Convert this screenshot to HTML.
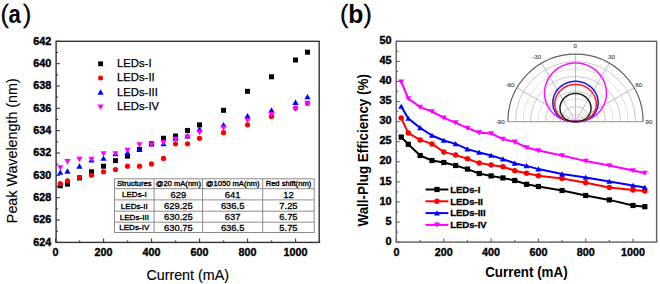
<!DOCTYPE html><html><head><meta charset="utf-8"><style>html,body{margin:0;padding:0;background:#fff;width:660px;height:284px;overflow:hidden}svg{display:block}text{font-family:"Liberation Sans",sans-serif}</style></head><body>
<svg width="660" height="284" viewBox="0 0 660 284">
<rect width="660" height="284" fill="#fff"/>
<text x="0.4" y="23.1" font-size="25" stroke="#000" stroke-width="0.3">(</text>
<text transform="translate(8.6,22.9) scale(0.84,1)" font-size="26.3" font-weight="bold">a</text>
<text x="23.1" y="23.1" font-size="25" stroke="#000" stroke-width="0.3">)</text>
<text x="339.9" y="23.1" font-size="25" stroke="#000" stroke-width="0.3">(</text>
<text transform="translate(348.3,22.9) scale(0.97,1)" font-size="25.5" font-weight="bold">b</text>
<text x="363.4" y="23.1" font-size="25" stroke="#000" stroke-width="0.3">)</text>
<line x1="56.1" y1="242.4" x2="59.9" y2="242.4" stroke="#333" stroke-width="1.1"/>
<line x1="56.1" y1="231.23" x2="58.1" y2="231.23" stroke="#333" stroke-width="1.1"/>
<line x1="56.1" y1="220.06" x2="59.9" y2="220.06" stroke="#333" stroke-width="1.1"/>
<line x1="56.1" y1="208.88" x2="58.1" y2="208.88" stroke="#333" stroke-width="1.1"/>
<line x1="56.1" y1="197.71" x2="59.9" y2="197.71" stroke="#333" stroke-width="1.1"/>
<line x1="56.1" y1="186.54" x2="58.1" y2="186.54" stroke="#333" stroke-width="1.1"/>
<line x1="56.1" y1="175.37" x2="59.9" y2="175.37" stroke="#333" stroke-width="1.1"/>
<line x1="56.1" y1="164.19" x2="58.1" y2="164.19" stroke="#333" stroke-width="1.1"/>
<line x1="56.1" y1="153.02" x2="59.9" y2="153.02" stroke="#333" stroke-width="1.1"/>
<line x1="56.1" y1="141.85" x2="58.1" y2="141.85" stroke="#333" stroke-width="1.1"/>
<line x1="56.1" y1="130.68" x2="59.9" y2="130.68" stroke="#333" stroke-width="1.1"/>
<line x1="56.1" y1="119.51" x2="58.1" y2="119.51" stroke="#333" stroke-width="1.1"/>
<line x1="56.1" y1="108.33" x2="59.9" y2="108.33" stroke="#333" stroke-width="1.1"/>
<line x1="56.1" y1="97.16" x2="58.1" y2="97.16" stroke="#333" stroke-width="1.1"/>
<line x1="56.1" y1="85.99" x2="59.9" y2="85.99" stroke="#333" stroke-width="1.1"/>
<line x1="56.1" y1="74.82" x2="58.1" y2="74.82" stroke="#333" stroke-width="1.1"/>
<line x1="56.1" y1="63.64" x2="59.9" y2="63.64" stroke="#333" stroke-width="1.1"/>
<line x1="56.1" y1="52.47" x2="58.1" y2="52.47" stroke="#333" stroke-width="1.1"/>
<line x1="56.1" y1="41.3" x2="59.9" y2="41.3" stroke="#333" stroke-width="1.1"/>
<line x1="55.6" y1="242.4" x2="55.6" y2="238.6" stroke="#333" stroke-width="1.1"/>
<line x1="79.6" y1="242.4" x2="79.6" y2="240.4" stroke="#333" stroke-width="1.1"/>
<line x1="103.6" y1="242.4" x2="103.6" y2="238.6" stroke="#333" stroke-width="1.1"/>
<line x1="127.6" y1="242.4" x2="127.6" y2="240.4" stroke="#333" stroke-width="1.1"/>
<line x1="151.6" y1="242.4" x2="151.6" y2="238.6" stroke="#333" stroke-width="1.1"/>
<line x1="175.6" y1="242.4" x2="175.6" y2="240.4" stroke="#333" stroke-width="1.1"/>
<line x1="199.6" y1="242.4" x2="199.6" y2="238.6" stroke="#333" stroke-width="1.1"/>
<line x1="223.6" y1="242.4" x2="223.6" y2="240.4" stroke="#333" stroke-width="1.1"/>
<line x1="247.6" y1="242.4" x2="247.6" y2="238.6" stroke="#333" stroke-width="1.1"/>
<line x1="271.6" y1="242.4" x2="271.6" y2="240.4" stroke="#333" stroke-width="1.1"/>
<line x1="295.6" y1="242.4" x2="295.6" y2="238.6" stroke="#333" stroke-width="1.1"/>
<line x1="319.6" y1="242.4" x2="319.6" y2="240.4" stroke="#333" stroke-width="1.1"/>
<rect x="56.1" y="41.3" width="263.1" height="201.1" fill="none" stroke="#333" stroke-width="1.4"/>
<text x="51.2" y="245.8" font-size="10.8" font-weight="bold" stroke="#000" stroke-width="0.4" text-anchor="end">624</text>
<text x="51.2" y="223.46" font-size="10.8" font-weight="bold" stroke="#000" stroke-width="0.4" text-anchor="end">626</text>
<text x="51.2" y="201.11" font-size="10.8" font-weight="bold" stroke="#000" stroke-width="0.4" text-anchor="end">628</text>
<text x="51.2" y="178.77" font-size="10.8" font-weight="bold" stroke="#000" stroke-width="0.4" text-anchor="end">630</text>
<text x="51.2" y="156.42" font-size="10.8" font-weight="bold" stroke="#000" stroke-width="0.4" text-anchor="end">632</text>
<text x="51.2" y="134.08" font-size="10.8" font-weight="bold" stroke="#000" stroke-width="0.4" text-anchor="end">634</text>
<text x="51.2" y="111.73" font-size="10.8" font-weight="bold" stroke="#000" stroke-width="0.4" text-anchor="end">636</text>
<text x="51.2" y="89.39" font-size="10.8" font-weight="bold" stroke="#000" stroke-width="0.4" text-anchor="end">638</text>
<text x="51.2" y="67.04" font-size="10.8" font-weight="bold" stroke="#000" stroke-width="0.4" text-anchor="end">640</text>
<text x="51.2" y="44.7" font-size="10.8" font-weight="bold" stroke="#000" stroke-width="0.4" text-anchor="end">642</text>
<text x="55.6" y="255.5" font-size="10.8" font-weight="bold" stroke="#000" stroke-width="0.35" text-anchor="middle">0</text>
<text x="103.6" y="255.5" font-size="10.8" font-weight="bold" stroke="#000" stroke-width="0.35" text-anchor="middle">200</text>
<text x="151.6" y="255.5" font-size="10.8" font-weight="bold" stroke="#000" stroke-width="0.35" text-anchor="middle">400</text>
<text x="199.6" y="255.5" font-size="10.8" font-weight="bold" stroke="#000" stroke-width="0.35" text-anchor="middle">600</text>
<text x="247.6" y="255.5" font-size="10.8" font-weight="bold" stroke="#000" stroke-width="0.35" text-anchor="middle">800</text>
<text x="295.6" y="255.5" font-size="10.8" font-weight="bold" stroke="#000" stroke-width="0.35" text-anchor="middle">1000</text>
<text x="187.7" y="279.7" font-size="14.3" stroke="#000" stroke-width="0.15" text-anchor="middle">Current (mA)</text>
<text transform="translate(17,150.7) rotate(-90)" font-size="14.3" stroke="#000" stroke-width="0.15" text-anchor="middle">Peak Wavelength (nm)</text>
<rect x="57.8" y="183.28" width="5" height="5" fill="#000000"/>
<rect x="65" y="181.6" width="5" height="5" fill="#000000"/>
<rect x="77" y="175.45" width="5" height="5" fill="#000000"/>
<rect x="89" y="169.31" width="5" height="5" fill="#000000"/>
<rect x="101" y="163.72" width="5" height="5" fill="#000000"/>
<rect x="113" y="158.13" width="5" height="5" fill="#000000"/>
<rect x="125" y="153.65" width="5" height="5" fill="#000000"/>
<rect x="137" y="146.95" width="5" height="5" fill="#000000"/>
<rect x="149" y="141.36" width="5" height="5" fill="#000000"/>
<rect x="161" y="135.77" width="5" height="5" fill="#000000"/>
<rect x="173" y="133.53" width="5" height="5" fill="#000000"/>
<rect x="185" y="127.94" width="5" height="5" fill="#000000"/>
<rect x="197" y="122.35" width="5" height="5" fill="#000000"/>
<rect x="221" y="107.82" width="5" height="5" fill="#000000"/>
<rect x="245" y="88.81" width="5" height="5" fill="#000000"/>
<rect x="269" y="74.28" width="5" height="5" fill="#000000"/>
<rect x="293" y="57.51" width="5" height="5" fill="#000000"/>
<rect x="305" y="49.68" width="5" height="5" fill="#000000"/>
<circle cx="60.3" cy="183.54" r="2.62" fill="#ff0000"/>
<circle cx="67.5" cy="180.75" r="2.62" fill="#ff0000"/>
<circle cx="79.5" cy="177.4" r="2.62" fill="#ff0000"/>
<circle cx="91.5" cy="175.16" r="2.62" fill="#ff0000"/>
<circle cx="103.5" cy="171.81" r="2.62" fill="#ff0000"/>
<circle cx="115.5" cy="169.57" r="2.62" fill="#ff0000"/>
<circle cx="127.5" cy="166.22" r="2.62" fill="#ff0000"/>
<circle cx="139.5" cy="166.22" r="2.62" fill="#ff0000"/>
<circle cx="151.5" cy="163.98" r="2.62" fill="#ff0000"/>
<circle cx="163.5" cy="158.39" r="2.62" fill="#ff0000"/>
<circle cx="175.5" cy="143.86" r="2.62" fill="#ff0000"/>
<circle cx="187.5" cy="143.86" r="2.62" fill="#ff0000"/>
<circle cx="199.5" cy="138.27" r="2.62" fill="#ff0000"/>
<circle cx="223.5" cy="132.68" r="2.62" fill="#ff0000"/>
<circle cx="247.5" cy="124.85" r="2.62" fill="#ff0000"/>
<circle cx="271.5" cy="116.47" r="2.62" fill="#ff0000"/>
<circle cx="295.5" cy="108.08" r="2.62" fill="#ff00ff"/>
<circle cx="307.5" cy="103.61" r="2.62" fill="#ff00ff"/>
<polygon points="57.2,174.8 63.4,174.8 60.3,169.4" fill="#0000ff"/>
<polygon points="64.39,173.68 70.61,173.68 67.5,168.28" fill="#0000ff"/>
<polygon points="76.39,168.65 82.61,168.65 79.5,163.25" fill="#0000ff"/>
<polygon points="88.39,162.5 94.61,162.5 91.5,157.1" fill="#0000ff"/>
<polygon points="100.39,160.82 106.61,160.82 103.5,155.42" fill="#0000ff"/>
<polygon points="112.39,156.35 118.61,156.35 115.5,150.95" fill="#0000ff"/>
<polygon points="124.39,155.23 130.6,155.23 127.5,149.83" fill="#0000ff"/>
<polygon points="136.4,151.88 142.6,151.88 139.5,146.48" fill="#0000ff"/>
<polygon points="148.4,146.29 154.6,146.29 151.5,140.89" fill="#0000ff"/>
<polygon points="160.4,146.29 166.6,146.29 163.5,140.89" fill="#0000ff"/>
<polygon points="172.4,140.7 178.6,140.7 175.5,135.3" fill="#0000ff"/>
<polygon points="184.4,138.46 190.6,138.46 187.5,133.06" fill="#0000ff"/>
<polygon points="196.4,131.75 202.6,131.75 199.5,126.35" fill="#0000ff"/>
<polygon points="220.4,127.28 226.6,127.28 223.5,121.88" fill="#0000ff"/>
<polygon points="244.4,118.34 250.6,118.34 247.5,112.94" fill="#0000ff"/>
<polygon points="268.39,112.75 274.61,112.75 271.5,107.35" fill="#0000ff"/>
<polygon points="292.39,104.92 298.61,104.92 295.5,99.52" fill="#0000ff"/>
<polygon points="304.39,99.33 310.61,99.33 307.5,93.93" fill="#0000ff"/>
<polygon points="57.2,165.14 63.4,165.14 60.3,170.54" fill="#ff00ff"/>
<polygon points="64.39,159 70.61,159 67.5,164.4" fill="#ff00ff"/>
<polygon points="76.39,156.76 82.61,156.76 79.5,162.16" fill="#ff00ff"/>
<polygon points="88.39,156.76 94.61,156.76 91.5,162.16" fill="#ff00ff"/>
<polygon points="100.39,151.17 106.61,151.17 103.5,156.57" fill="#ff00ff"/>
<polygon points="112.39,151.17 118.61,151.17 115.5,156.57" fill="#ff00ff"/>
<polygon points="124.39,147.82 130.6,147.82 127.5,153.22" fill="#ff00ff"/>
<polygon points="136.4,142.23 142.6,142.23 139.5,147.63" fill="#ff00ff"/>
<polygon points="148.4,142.23 154.6,142.23 151.5,147.63" fill="#ff00ff"/>
<polygon points="160.4,139.99 166.6,139.99 163.5,145.39" fill="#ff00ff"/>
<polygon points="172.4,136.64 178.6,136.64 175.5,142.04" fill="#ff00ff"/>
<polygon points="184.4,134.4 190.6,134.4 187.5,139.8" fill="#ff00ff"/>
<polygon points="196.4,129.93 202.6,129.93 199.5,135.33" fill="#ff00ff"/>
<polygon points="220.4,125.46 226.6,125.46 223.5,130.86" fill="#ff00ff"/>
<polygon points="244.4,117.63 250.6,117.63 247.5,123.03" fill="#ff00ff"/>
<polygon points="268.39,112.04 274.61,112.04 271.5,117.44" fill="#ff00ff"/>
<polygon points="292.39,106.45 298.61,106.45 295.5,111.85" fill="#ff00ff"/>
<polygon points="304.39,100.86 310.61,100.86 307.5,106.26" fill="#ff00ff"/>
<rect x="98.2" y="61.4" width="4.8" height="4.8" fill="#000000"/>
<text x="117" y="67.2" font-size="11.3" stroke="#000" stroke-width="0.25">LEDs-I</text>
<circle cx="100.6" cy="78" r="2.52" fill="#ff0000"/>
<text x="117" y="81.4" font-size="11.3" stroke="#000" stroke-width="0.25">LEDs-II</text>
<polygon points="97.49,94.63 103.7,94.63 100.6,89.23" fill="#0000ff"/>
<text x="117" y="95.6" font-size="11.3" stroke="#000" stroke-width="0.25">LEDs-III</text>
<polygon points="97.49,104.57 103.7,104.57 100.6,109.97" fill="#ff00ff"/>
<text x="117" y="109.8" font-size="11.3" stroke="#000" stroke-width="0.25">LEDs-IV</text>
<rect x="114.5" y="178.8" width="199.7" height="53.7" fill="#fff" stroke="#8c8c8c" stroke-width="1"/>
<line x1="154.1" y1="178.8" x2="154.1" y2="232.5" stroke="#8c8c8c" stroke-width="1"/>
<line x1="202.6" y1="178.8" x2="202.6" y2="232.5" stroke="#8c8c8c" stroke-width="1"/>
<line x1="262.7" y1="178.8" x2="262.7" y2="232.5" stroke="#8c8c8c" stroke-width="1"/>
<line x1="114.5" y1="188.7" x2="314.2" y2="188.7" stroke="#8c8c8c" stroke-width="1"/>
<line x1="114.5" y1="199.9" x2="314.2" y2="199.9" stroke="#8c8c8c" stroke-width="1"/>
<line x1="114.5" y1="211.2" x2="314.2" y2="211.2" stroke="#8c8c8c" stroke-width="1"/>
<line x1="114.5" y1="222.2" x2="314.2" y2="222.2" stroke="#8c8c8c" stroke-width="1"/>
<text x="134.3" y="186.35" font-size="7.6" stroke="#000" stroke-width="0.35" text-anchor="middle">Structures</text>
<text x="178.35" y="186.35" font-size="7.6" stroke="#000" stroke-width="0.35" text-anchor="middle">@20 mA(nm)</text>
<text x="232.65" y="186.35" font-size="7.6" stroke="#000" stroke-width="0.35" text-anchor="middle">@1050 mA(nm)</text>
<text x="288.45" y="186.35" font-size="7.6" stroke="#000" stroke-width="0.35" text-anchor="middle">Red shift(nm)</text>
<text x="134.3" y="197.3" font-size="8.1" stroke="#000" stroke-width="0.35" text-anchor="middle">LEDs-I</text>
<text x="178.35" y="197.7" font-size="9.4" stroke="#000" stroke-width="0.3" text-anchor="middle">629</text>
<text x="232.65" y="197.7" font-size="9.4" stroke="#000" stroke-width="0.3" text-anchor="middle">641</text>
<text x="288.45" y="197.7" font-size="9.4" stroke="#000" stroke-width="0.3" text-anchor="middle">12</text>
<text x="134.3" y="208.55" font-size="8.1" stroke="#000" stroke-width="0.35" text-anchor="middle">LEDs-II</text>
<text x="178.35" y="208.95" font-size="9.4" stroke="#000" stroke-width="0.3" text-anchor="middle">629.25</text>
<text x="232.65" y="208.95" font-size="9.4" stroke="#000" stroke-width="0.3" text-anchor="middle">636.5</text>
<text x="288.45" y="208.95" font-size="9.4" stroke="#000" stroke-width="0.3" text-anchor="middle">7.25</text>
<text x="134.3" y="219.7" font-size="8.1" stroke="#000" stroke-width="0.35" text-anchor="middle">LEDs-III</text>
<text x="178.35" y="220.1" font-size="9.4" stroke="#000" stroke-width="0.3" text-anchor="middle">630.25</text>
<text x="232.65" y="220.1" font-size="9.4" stroke="#000" stroke-width="0.3" text-anchor="middle">637</text>
<text x="288.45" y="220.1" font-size="9.4" stroke="#000" stroke-width="0.3" text-anchor="middle">6.75</text>
<text x="134.3" y="230.35" font-size="8.1" stroke="#000" stroke-width="0.35" text-anchor="middle">LEDs-IV</text>
<text x="178.35" y="230.75" font-size="9.4" stroke="#000" stroke-width="0.3" text-anchor="middle">630.75</text>
<text x="232.65" y="230.75" font-size="9.4" stroke="#000" stroke-width="0.3" text-anchor="middle">636.5</text>
<text x="288.45" y="230.75" font-size="9.4" stroke="#000" stroke-width="0.3" text-anchor="middle">5.75</text>
<line x1="396.2" y1="242.1" x2="399.7" y2="242.1" stroke="#606060" stroke-width="1.1"/>
<line x1="396.2" y1="232.06" x2="398.2" y2="232.06" stroke="#606060" stroke-width="1.1"/>
<line x1="396.2" y1="222.02" x2="399.7" y2="222.02" stroke="#606060" stroke-width="1.1"/>
<line x1="396.2" y1="211.98" x2="398.2" y2="211.98" stroke="#606060" stroke-width="1.1"/>
<line x1="396.2" y1="201.94" x2="399.7" y2="201.94" stroke="#606060" stroke-width="1.1"/>
<line x1="396.2" y1="191.9" x2="398.2" y2="191.9" stroke="#606060" stroke-width="1.1"/>
<line x1="396.2" y1="181.86" x2="399.7" y2="181.86" stroke="#606060" stroke-width="1.1"/>
<line x1="396.2" y1="171.82" x2="398.2" y2="171.82" stroke="#606060" stroke-width="1.1"/>
<line x1="396.2" y1="161.78" x2="399.7" y2="161.78" stroke="#606060" stroke-width="1.1"/>
<line x1="396.2" y1="151.74" x2="398.2" y2="151.74" stroke="#606060" stroke-width="1.1"/>
<line x1="396.2" y1="141.7" x2="399.7" y2="141.7" stroke="#606060" stroke-width="1.1"/>
<line x1="396.2" y1="131.66" x2="398.2" y2="131.66" stroke="#606060" stroke-width="1.1"/>
<line x1="396.2" y1="121.62" x2="399.7" y2="121.62" stroke="#606060" stroke-width="1.1"/>
<line x1="396.2" y1="111.58" x2="398.2" y2="111.58" stroke="#606060" stroke-width="1.1"/>
<line x1="396.2" y1="101.54" x2="399.7" y2="101.54" stroke="#606060" stroke-width="1.1"/>
<line x1="396.2" y1="91.5" x2="398.2" y2="91.5" stroke="#606060" stroke-width="1.1"/>
<line x1="396.2" y1="81.46" x2="399.7" y2="81.46" stroke="#606060" stroke-width="1.1"/>
<line x1="396.2" y1="71.42" x2="398.2" y2="71.42" stroke="#606060" stroke-width="1.1"/>
<line x1="396.2" y1="61.38" x2="399.7" y2="61.38" stroke="#606060" stroke-width="1.1"/>
<line x1="396.2" y1="51.34" x2="398.2" y2="51.34" stroke="#606060" stroke-width="1.1"/>
<line x1="396.2" y1="41.3" x2="399.7" y2="41.3" stroke="#606060" stroke-width="1.1"/>
<line x1="396.5" y1="242.1" x2="396.5" y2="238.6" stroke="#606060" stroke-width="1.1"/>
<line x1="420.15" y1="242.1" x2="420.15" y2="240.1" stroke="#606060" stroke-width="1.1"/>
<line x1="443.8" y1="242.1" x2="443.8" y2="238.6" stroke="#606060" stroke-width="1.1"/>
<line x1="467.45" y1="242.1" x2="467.45" y2="240.1" stroke="#606060" stroke-width="1.1"/>
<line x1="491.1" y1="242.1" x2="491.1" y2="238.6" stroke="#606060" stroke-width="1.1"/>
<line x1="514.75" y1="242.1" x2="514.75" y2="240.1" stroke="#606060" stroke-width="1.1"/>
<line x1="538.4" y1="242.1" x2="538.4" y2="238.6" stroke="#606060" stroke-width="1.1"/>
<line x1="562.05" y1="242.1" x2="562.05" y2="240.1" stroke="#606060" stroke-width="1.1"/>
<line x1="585.7" y1="242.1" x2="585.7" y2="238.6" stroke="#606060" stroke-width="1.1"/>
<line x1="609.35" y1="242.1" x2="609.35" y2="240.1" stroke="#606060" stroke-width="1.1"/>
<line x1="633" y1="242.1" x2="633" y2="238.6" stroke="#606060" stroke-width="1.1"/>
<line x1="656.65" y1="242.1" x2="656.65" y2="240.1" stroke="#606060" stroke-width="1.1"/>
<rect x="396.2" y="41.3" width="260.4" height="200.8" fill="none" stroke="#606060" stroke-width="1.4"/>
<text x="391.6" y="244.8" font-size="10.9" font-weight="bold" stroke="#000" stroke-width="0.4" text-anchor="end">0</text>
<text x="391.6" y="224.72" font-size="10.9" font-weight="bold" stroke="#000" stroke-width="0.4" text-anchor="end">5</text>
<text x="391.6" y="204.64" font-size="10.9" font-weight="bold" stroke="#000" stroke-width="0.4" text-anchor="end">10</text>
<text x="391.6" y="184.56" font-size="10.9" font-weight="bold" stroke="#000" stroke-width="0.4" text-anchor="end">15</text>
<text x="391.6" y="164.48" font-size="10.9" font-weight="bold" stroke="#000" stroke-width="0.4" text-anchor="end">20</text>
<text x="391.6" y="144.4" font-size="10.9" font-weight="bold" stroke="#000" stroke-width="0.4" text-anchor="end">25</text>
<text x="391.6" y="124.32" font-size="10.9" font-weight="bold" stroke="#000" stroke-width="0.4" text-anchor="end">30</text>
<text x="391.6" y="104.24" font-size="10.9" font-weight="bold" stroke="#000" stroke-width="0.4" text-anchor="end">35</text>
<text x="391.6" y="84.16" font-size="10.9" font-weight="bold" stroke="#000" stroke-width="0.4" text-anchor="end">40</text>
<text x="391.6" y="64.08" font-size="10.9" font-weight="bold" stroke="#000" stroke-width="0.4" text-anchor="end">45</text>
<text x="391.6" y="44" font-size="10.9" font-weight="bold" stroke="#000" stroke-width="0.4" text-anchor="end">50</text>
<text x="396.5" y="255.5" font-size="10.8" font-weight="bold" stroke="#000" stroke-width="0.35" text-anchor="middle">0</text>
<text x="443.8" y="255.5" font-size="10.8" font-weight="bold" stroke="#000" stroke-width="0.35" text-anchor="middle">200</text>
<text x="491.1" y="255.5" font-size="10.8" font-weight="bold" stroke="#000" stroke-width="0.35" text-anchor="middle">400</text>
<text x="538.4" y="255.5" font-size="10.8" font-weight="bold" stroke="#000" stroke-width="0.35" text-anchor="middle">600</text>
<text x="585.7" y="255.5" font-size="10.8" font-weight="bold" stroke="#000" stroke-width="0.35" text-anchor="middle">800</text>
<text x="633" y="255.5" font-size="10.8" font-weight="bold" stroke="#000" stroke-width="0.35" text-anchor="middle">1000</text>
<text x="526.4" y="276.9" font-size="14.2" font-weight="bold" text-anchor="middle" textLength="82.5" lengthAdjust="spacingAndGlyphs">Current (mA)</text>
<text transform="translate(367.5,150.3) rotate(-90)" font-size="14.5" font-weight="bold" text-anchor="middle" textLength="152.5" lengthAdjust="spacingAndGlyphs">Wall-Plug Efficiency (%)</text>
<path d="M567.99,121.6 A7.51,7.51 0 0 1 583.01,121.6" fill="none" stroke="#dcdcdc" stroke-width="0.9"/>
<path d="M560.48,121.6 A15.02,15.02 0 0 1 590.52,121.6" fill="none" stroke="#c4c4c4" stroke-width="0.9"/>
<path d="M552.97,121.6 A22.53,22.53 0 0 1 598.03,121.6" fill="none" stroke="#dcdcdc" stroke-width="0.9"/>
<path d="M545.46,121.6 A30.04,30.04 0 0 1 605.54,121.6" fill="none" stroke="#c4c4c4" stroke-width="0.9"/>
<path d="M537.94,121.6 A37.56,37.56 0 0 1 613.06,121.6" fill="none" stroke="#dcdcdc" stroke-width="0.9"/>
<path d="M530.43,121.6 A45.07,45.07 0 0 1 620.57,121.6" fill="none" stroke="#c4c4c4" stroke-width="0.9"/>
<path d="M522.92,121.6 A52.58,52.58 0 0 1 628.08,121.6" fill="none" stroke="#dcdcdc" stroke-width="0.9"/>
<path d="M515.41,121.6 A60.09,60.09 0 0 1 635.59,121.6" fill="none" stroke="#c4c4c4" stroke-width="0.9"/>
<line x1="575.5" y1="121.6" x2="516.96" y2="87.8" stroke="#b4b4b4" stroke-width="0.9"/>
<line x1="575.5" y1="121.6" x2="541.7" y2="63.06" stroke="#b4b4b4" stroke-width="0.9"/>
<line x1="575.5" y1="121.6" x2="575.5" y2="54" stroke="#b4b4b4" stroke-width="0.9"/>
<line x1="575.5" y1="121.6" x2="609.3" y2="63.06" stroke="#b4b4b4" stroke-width="0.9"/>
<line x1="575.5" y1="121.6" x2="634.04" y2="87.8" stroke="#b4b4b4" stroke-width="0.9"/>
<line x1="507.9" y1="121.6" x2="643.1" y2="121.6" stroke="#a8a8a8" stroke-width="1.1"/>
<path d="M507.9,121.6 A67.6,67.6 0 0 1 643.1,121.6" fill="none" stroke="#606060" stroke-width="1.2"/>
<text x="500.3" y="123.9" font-size="6.2" fill="#4a4a4a" stroke="#4a4a4a" stroke-width="0.15" text-anchor="middle">-90</text>
<text x="510" y="86.8" font-size="6.2" fill="#4a4a4a" stroke="#4a4a4a" stroke-width="0.15" text-anchor="middle">-60</text>
<text x="536.8" y="58.9" font-size="6.2" fill="#4a4a4a" stroke="#4a4a4a" stroke-width="0.15" text-anchor="middle">-30</text>
<text x="575.3" y="48.4" font-size="6.2" fill="#4a4a4a" stroke="#4a4a4a" stroke-width="0.15" text-anchor="middle">0</text>
<text x="611.4" y="59.2" font-size="6.2" fill="#4a4a4a" stroke="#4a4a4a" stroke-width="0.15" text-anchor="middle">30</text>
<text x="638.7" y="86.8" font-size="6.2" fill="#4a4a4a" stroke="#4a4a4a" stroke-width="0.15" text-anchor="middle">60</text>
<text x="649" y="124.4" font-size="6.2" fill="#4a4a4a" stroke="#4a4a4a" stroke-width="0.15" text-anchor="middle">90</text>
<path d="M575.5,121.6 L572.12,121.48 L569.42,121.17 L566.95,120.7 L564.64,120.07 L562.47,119.3 L560.42,118.39 L558.48,117.36 L556.66,116.2 L554.96,114.93 L553.38,113.55 L551.92,112.07 L550.58,110.51 L549.37,108.86 L548.29,107.13 L547.35,105.34 L546.53,103.5 L545.86,101.61 L545.32,99.67 L544.92,97.71 L544.67,95.73 L544.55,93.73 L544.57,91.73 L544.73,89.74 L545.03,87.76 L545.47,85.81 L546.04,83.89 L546.73,82.01 L547.56,80.18 L548.51,78.4 L549.57,76.69 L550.75,75.05 L552.04,73.5 L553.43,72.03 L554.91,70.65 L556.49,69.37 L558.15,68.2 L559.88,67.13 L561.68,66.18 L563.54,65.35 L565.46,64.64 L567.41,64.05 L569.4,63.59 L571.42,63.26 L573.46,63.07 L575.5,63 L577.54,63.07 L579.58,63.26 L581.6,63.59 L583.59,64.05 L585.54,64.64 L587.46,65.35 L589.32,66.18 L591.12,67.13 L592.85,68.2 L594.51,69.37 L596.09,70.65 L597.57,72.03 L598.96,73.5 L600.25,75.05 L601.43,76.69 L602.49,78.4 L603.44,80.18 L604.27,82.01 L604.96,83.89 L605.53,85.81 L605.97,87.76 L606.27,89.74 L606.43,91.73 L606.45,93.73 L606.33,95.73 L606.08,97.71 L605.68,99.67 L605.14,101.61 L604.47,103.5 L603.65,105.34 L602.71,107.13 L601.63,108.86 L600.42,110.51 L599.08,112.07 L597.62,113.55 L596.04,114.93 L594.34,116.2 L592.52,117.36 L590.58,118.39 L588.53,119.3 L586.36,120.07 L584.05,120.7 L581.58,121.17 L578.88,121.48 L575.5,121.6Z" fill="none" stroke="#ff10ff" stroke-width="1.5" stroke-linejoin="round"/>
<path d="M575.5,121.6 L571.65,121.47 L569.27,121.16 L567.25,120.73 L565.46,120.19 L563.85,119.55 L562.37,118.81 L561.02,117.99 L559.78,117.09 L558.65,116.13 L557.63,115.1 L556.71,114.01 L555.89,112.87 L555.16,111.68 L554.54,110.46 L554.02,109.2 L553.59,107.91 L553.26,106.6 L553.02,105.27 L552.89,103.93 L552.84,102.59 L552.89,101.24 L553.04,99.91 L553.27,98.58 L553.59,97.27 L554,95.98 L554.5,94.72 L555.08,93.49 L555.74,92.3 L556.47,91.15 L557.28,90.04 L558.16,88.99 L559.11,87.99 L560.11,87.04 L561.18,86.16 L562.3,85.34 L563.48,84.6 L564.69,83.92 L565.95,83.31 L567.25,82.79 L568.58,82.34 L569.93,81.96 L571.3,81.67 L572.69,81.47 L574.09,81.34 L575.5,81.3 L576.91,81.34 L578.31,81.47 L579.7,81.67 L581.07,81.96 L582.42,82.34 L583.75,82.79 L585.05,83.31 L586.31,83.92 L587.52,84.6 L588.7,85.34 L589.82,86.16 L590.89,87.04 L591.89,87.99 L592.84,88.99 L593.72,90.04 L594.53,91.15 L595.26,92.3 L595.92,93.49 L596.5,94.72 L597,95.98 L597.41,97.27 L597.73,98.58 L597.96,99.91 L598.11,101.24 L598.16,102.59 L598.11,103.93 L597.98,105.27 L597.74,106.6 L597.41,107.91 L596.98,109.2 L596.46,110.46 L595.84,111.68 L595.11,112.87 L594.29,114.01 L593.37,115.1 L592.35,116.13 L591.22,117.09 L589.98,117.99 L588.63,118.81 L587.15,119.55 L585.54,120.19 L583.75,120.73 L581.73,121.16 L579.35,121.47 L575.5,121.6Z" fill="none" stroke="#1515ff" stroke-width="1.5" stroke-linejoin="round"/>
<path d="M575.5,121.6 L572.18,121.48 L570.04,121.22 L568.22,120.84 L566.59,120.35 L565.11,119.77 L563.76,119.1 L562.51,118.36 L561.36,117.55 L560.31,116.66 L559.35,115.72 L558.49,114.73 L557.72,113.68 L557.04,112.59 L556.44,111.47 L555.94,110.31 L555.53,109.12 L555.21,107.91 L554.97,106.69 L554.83,105.45 L554.77,104.21 L554.8,102.96 L554.91,101.72 L555.12,100.49 L555.4,99.28 L555.76,98.08 L556.21,96.91 L556.73,95.76 L557.32,94.65 L557.99,93.58 L558.73,92.55 L559.53,91.57 L560.4,90.64 L561.32,89.76 L562.3,88.94 L563.33,88.17 L564.41,87.48 L565.53,86.84 L566.69,86.28 L567.89,85.79 L569.11,85.37 L570.36,85.02 L571.63,84.75 L572.91,84.56 L574.2,84.44 L575.5,84.4 L576.8,84.44 L578.09,84.56 L579.37,84.75 L580.64,85.02 L581.89,85.37 L583.11,85.79 L584.31,86.28 L585.47,86.84 L586.59,87.48 L587.67,88.17 L588.7,88.94 L589.68,89.76 L590.6,90.64 L591.47,91.57 L592.27,92.55 L593.01,93.58 L593.68,94.65 L594.27,95.76 L594.79,96.91 L595.24,98.08 L595.6,99.28 L595.88,100.49 L596.09,101.72 L596.2,102.96 L596.23,104.21 L596.17,105.45 L596.03,106.69 L595.79,107.91 L595.47,109.12 L595.06,110.31 L594.56,111.47 L593.96,112.59 L593.28,113.68 L592.51,114.73 L591.65,115.72 L590.69,116.66 L589.64,117.55 L588.49,118.36 L587.24,119.1 L585.89,119.77 L584.41,120.35 L582.78,120.84 L580.96,121.22 L578.82,121.48 L575.5,121.6Z" fill="none" stroke="#ff2020" stroke-width="1.5" stroke-linejoin="round"/>
<path d="M575.5,121.6 L573.22,121.52 L571.68,121.33 L570.34,121.06 L569.14,120.71 L568.03,120.28 L567.01,119.79 L566.06,119.25 L565.19,118.64 L564.38,117.99 L563.65,117.29 L562.98,116.54 L562.38,115.76 L561.85,114.94 L561.38,114.09 L560.98,113.22 L560.65,112.32 L560.38,111.4 L560.18,110.47 L560.06,109.53 L559.99,108.59 L560,107.64 L560.06,106.69 L560.2,105.76 L560.4,104.83 L560.66,103.91 L560.98,103.01 L561.36,102.14 L561.8,101.29 L562.29,100.47 L562.84,99.68 L563.44,98.92 L564.09,98.2 L564.78,97.53 L565.52,96.89 L566.29,96.31 L567.11,95.77 L567.95,95.28 L568.83,94.85 L569.73,94.47 L570.66,94.15 L571.6,93.88 L572.56,93.67 L573.54,93.52 L574.52,93.43 L575.5,93.4 L576.48,93.43 L577.46,93.52 L578.44,93.67 L579.4,93.88 L580.34,94.15 L581.27,94.47 L582.17,94.85 L583.05,95.28 L583.89,95.77 L584.71,96.31 L585.48,96.89 L586.22,97.53 L586.91,98.2 L587.56,98.92 L588.16,99.68 L588.71,100.47 L589.2,101.29 L589.64,102.14 L590.02,103.01 L590.34,103.91 L590.6,104.83 L590.8,105.76 L590.94,106.69 L591,107.64 L591.01,108.59 L590.94,109.53 L590.82,110.47 L590.62,111.4 L590.35,112.32 L590.02,113.22 L589.62,114.09 L589.15,114.94 L588.62,115.76 L588.02,116.54 L587.35,117.29 L586.62,117.99 L585.81,118.64 L584.94,119.25 L583.99,119.79 L582.97,120.28 L581.86,120.71 L580.66,121.06 L579.32,121.33 L577.78,121.52 L575.5,121.6Z" fill="none" stroke="#202020" stroke-width="1.5" stroke-linejoin="round"/>
<polyline points="401.23,137.1 408.32,144.3 420.15,155.5 431.98,160.5 443.8,162.5 455.62,165.5 467.45,169.1 479.27,173.5 491.1,175.9 502.93,177.9 514.75,180.5 526.58,184.3 538.4,186.5 562.05,190.5 585.7,195.5 609.35,199.9 633,205.5 644.83,206.7" fill="none" stroke="#000000" stroke-width="2" stroke-linejoin="round"/>
<rect x="398.63" y="134.5" width="5.2" height="5.2" fill="#000000"/>
<rect x="405.72" y="141.7" width="5.2" height="5.2" fill="#000000"/>
<rect x="417.55" y="152.9" width="5.2" height="5.2" fill="#000000"/>
<rect x="429.38" y="157.9" width="5.2" height="5.2" fill="#000000"/>
<rect x="441.2" y="159.9" width="5.2" height="5.2" fill="#000000"/>
<rect x="453.02" y="162.9" width="5.2" height="5.2" fill="#000000"/>
<rect x="464.85" y="166.5" width="5.2" height="5.2" fill="#000000"/>
<rect x="476.67" y="170.9" width="5.2" height="5.2" fill="#000000"/>
<rect x="488.5" y="173.3" width="5.2" height="5.2" fill="#000000"/>
<rect x="500.32" y="175.3" width="5.2" height="5.2" fill="#000000"/>
<rect x="512.15" y="177.9" width="5.2" height="5.2" fill="#000000"/>
<rect x="523.98" y="181.7" width="5.2" height="5.2" fill="#000000"/>
<rect x="535.8" y="183.9" width="5.2" height="5.2" fill="#000000"/>
<rect x="559.45" y="187.9" width="5.2" height="5.2" fill="#000000"/>
<rect x="583.1" y="192.9" width="5.2" height="5.2" fill="#000000"/>
<rect x="606.75" y="197.3" width="5.2" height="5.2" fill="#000000"/>
<rect x="630.4" y="202.9" width="5.2" height="5.2" fill="#000000"/>
<rect x="642.23" y="204.1" width="5.2" height="5.2" fill="#000000"/>
<polyline points="401.23,117.9 408.32,133.1 420.15,139.9 431.98,143.9 443.8,151.9 455.62,155.1 467.45,158.7 479.27,163.1 491.1,165.1 502.93,166.7 514.75,170.7 526.58,173.3 538.4,175.7 562.05,178.5 585.7,182.7 609.35,187.5 633,189.9 644.83,191.1" fill="none" stroke="#ff0000" stroke-width="2" stroke-linejoin="round"/>
<circle cx="401.23" cy="117.9" r="2.73" fill="#ff0000"/>
<circle cx="408.32" cy="133.1" r="2.73" fill="#ff0000"/>
<circle cx="420.15" cy="139.9" r="2.73" fill="#ff0000"/>
<circle cx="431.98" cy="143.9" r="2.73" fill="#ff0000"/>
<circle cx="443.8" cy="151.9" r="2.73" fill="#ff0000"/>
<circle cx="455.62" cy="155.1" r="2.73" fill="#ff0000"/>
<circle cx="467.45" cy="158.7" r="2.73" fill="#ff0000"/>
<circle cx="479.27" cy="163.1" r="2.73" fill="#ff0000"/>
<circle cx="491.1" cy="165.1" r="2.73" fill="#ff0000"/>
<circle cx="502.93" cy="166.7" r="2.73" fill="#ff0000"/>
<circle cx="514.75" cy="170.7" r="2.73" fill="#ff0000"/>
<circle cx="526.58" cy="173.3" r="2.73" fill="#ff0000"/>
<circle cx="538.4" cy="175.7" r="2.73" fill="#ff0000"/>
<circle cx="562.05" cy="178.5" r="2.73" fill="#ff0000"/>
<circle cx="585.7" cy="182.7" r="2.73" fill="#ff0000"/>
<circle cx="609.35" cy="187.5" r="2.73" fill="#ff0000"/>
<circle cx="633" cy="189.9" r="2.73" fill="#ff0000"/>
<circle cx="644.83" cy="191.1" r="2.73" fill="#ff0000"/>
<polyline points="401.23,106.5 408.32,118.5 420.15,127.9 431.98,135.5 443.8,140.5 455.62,143.9 467.45,149.1 479.27,152.5 491.1,155.5 502.93,159.1 514.75,163.3 526.58,165.9 538.4,169.1 562.05,174.1 585.7,177.5 609.35,181.5 633,185.5 644.83,187.5" fill="none" stroke="#0000ff" stroke-width="2" stroke-linejoin="round"/>
<polygon points="398.24,108.84 404.22,108.84 401.23,103.64" fill="#0000ff"/>
<polygon points="405.33,120.84 411.31,120.84 408.32,115.64" fill="#0000ff"/>
<polygon points="417.16,130.24 423.14,130.24 420.15,125.04" fill="#0000ff"/>
<polygon points="428.99,137.84 434.97,137.84 431.98,132.64" fill="#0000ff"/>
<polygon points="440.81,142.84 446.79,142.84 443.8,137.64" fill="#0000ff"/>
<polygon points="452.63,146.24 458.62,146.24 455.62,141.04" fill="#0000ff"/>
<polygon points="464.46,151.44 470.44,151.44 467.45,146.24" fill="#0000ff"/>
<polygon points="476.28,154.84 482.26,154.84 479.27,149.64" fill="#0000ff"/>
<polygon points="488.11,157.84 494.09,157.84 491.1,152.64" fill="#0000ff"/>
<polygon points="499.94,161.44 505.92,161.44 502.93,156.24" fill="#0000ff"/>
<polygon points="511.76,165.64 517.74,165.64 514.75,160.44" fill="#0000ff"/>
<polygon points="523.59,168.24 529.57,168.24 526.58,163.04" fill="#0000ff"/>
<polygon points="535.41,171.44 541.39,171.44 538.4,166.24" fill="#0000ff"/>
<polygon points="559.06,176.44 565.04,176.44 562.05,171.24" fill="#0000ff"/>
<polygon points="582.71,179.84 588.69,179.84 585.7,174.64" fill="#0000ff"/>
<polygon points="606.36,183.84 612.34,183.84 609.35,178.64" fill="#0000ff"/>
<polygon points="630.01,187.84 635.99,187.84 633,182.64" fill="#0000ff"/>
<polygon points="641.84,189.84 647.82,189.84 644.83,184.64" fill="#0000ff"/>
<polyline points="401.23,81.9 408.32,98.5 420.15,107.1 431.98,111.5 443.8,117.9 455.62,122.7 467.45,128.1 479.27,132.7 491.1,133.5 502.93,139.1 514.75,141.9 526.58,147.5 538.4,150.5 562.05,155.5 585.7,161.1 609.35,165.5 633,170.5 644.83,173.1" fill="none" stroke="#ff00ff" stroke-width="2" stroke-linejoin="round"/>
<polygon points="398.24,79.56 404.22,79.56 401.23,84.76" fill="#ff00ff"/>
<polygon points="405.33,96.16 411.31,96.16 408.32,101.36" fill="#ff00ff"/>
<polygon points="417.16,104.76 423.14,104.76 420.15,109.96" fill="#ff00ff"/>
<polygon points="428.99,109.16 434.97,109.16 431.98,114.36" fill="#ff00ff"/>
<polygon points="440.81,115.56 446.79,115.56 443.8,120.76" fill="#ff00ff"/>
<polygon points="452.63,120.36 458.62,120.36 455.62,125.56" fill="#ff00ff"/>
<polygon points="464.46,125.76 470.44,125.76 467.45,130.96" fill="#ff00ff"/>
<polygon points="476.28,130.36 482.26,130.36 479.27,135.56" fill="#ff00ff"/>
<polygon points="488.11,131.16 494.09,131.16 491.1,136.36" fill="#ff00ff"/>
<polygon points="499.94,136.76 505.92,136.76 502.93,141.96" fill="#ff00ff"/>
<polygon points="511.76,139.56 517.74,139.56 514.75,144.76" fill="#ff00ff"/>
<polygon points="523.59,145.16 529.57,145.16 526.58,150.36" fill="#ff00ff"/>
<polygon points="535.41,148.16 541.39,148.16 538.4,153.36" fill="#ff00ff"/>
<polygon points="559.06,153.16 565.04,153.16 562.05,158.36" fill="#ff00ff"/>
<polygon points="582.71,158.76 588.69,158.76 585.7,163.96" fill="#ff00ff"/>
<polygon points="606.36,163.16 612.34,163.16 609.35,168.36" fill="#ff00ff"/>
<polygon points="630.01,168.16 635.99,168.16 633,173.36" fill="#ff00ff"/>
<polygon points="641.84,170.76 647.82,170.76 644.83,175.96" fill="#ff00ff"/>
<line x1="425.5" y1="189.5" x2="448.4" y2="189.5" stroke="#000000" stroke-width="2"/>
<rect x="434.4" y="186.9" width="5.2" height="5.2" fill="#000000"/>
<text x="450.2" y="192.8" font-size="9.5" font-weight="bold" stroke="#000" stroke-width="0.3">LEDs-I</text>
<line x1="425.5" y1="201.3" x2="448.4" y2="201.3" stroke="#ff0000" stroke-width="2"/>
<circle cx="437" cy="201.3" r="2.73" fill="#ff0000"/>
<text x="450.2" y="204.6" font-size="9.5" font-weight="bold" stroke="#000" stroke-width="0.3">LEDs-II</text>
<line x1="425.5" y1="213.1" x2="448.4" y2="213.1" stroke="#0000ff" stroke-width="2"/>
<polygon points="434.01,215.44 439.99,215.44 437,210.24" fill="#0000ff"/>
<text x="450.2" y="216.4" font-size="9.5" font-weight="bold" stroke="#000" stroke-width="0.3">LEDs-III</text>
<line x1="425.5" y1="224.9" x2="448.4" y2="224.9" stroke="#ff00ff" stroke-width="2"/>
<polygon points="434.01,222.56 439.99,222.56 437,227.76" fill="#ff00ff"/>
<text x="450.2" y="228.2" font-size="9.5" font-weight="bold" stroke="#000" stroke-width="0.3">LEDs-IV</text>
</svg></body></html>
